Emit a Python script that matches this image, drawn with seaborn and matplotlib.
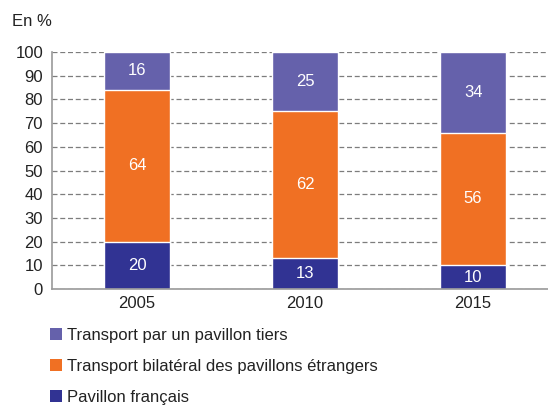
import numpy as np
import pandas as pd
import seaborn as sns
import matplotlib.pyplot as plt
from matplotlib.patches import Patch

years = ["2005", "2010", "2015"]
francais = [20, 13, 10]
bilateral = [64, 62, 56]
tiers = [16, 25, 34]

labels = ["Transport par un pavillon tiers",
          "Transport bilatéral des pavillons étrangers",
          "Pavillon français"]
colors = ["#6561AB", "#F07023", "#313393"]

sns.set_style("white")
plt.rcParams["font.family"] = ["Liberation Sans", "DejaVu Sans"]

df = pd.DataFrame({"year": years, "francais": francais,
                   "bilateral": bilateral, "tiers": tiers})
df["c1"] = df["francais"]
df["c2"] = df["francais"] + df["bilateral"]
df["c3"] = df["c2"] + df["tiers"]

fig = plt.figure(figsize=(5.48, 4.05), dpi=100)
ax = fig.add_axes([0.095, 0.2864, 0.905, 0.5852])

# stacked bars: draw cumulative totals from top layer down
for col, c in zip(["c3", "c2", "c1"], colors):
    sns.barplot(data=df, x="year", y=col, color=c, width=0.39,
                saturation=1, ax=ax, zorder=2)

# value labels centred in segments
for i in range(len(years)):
    parts = [(francais[i], 0), (bilateral[i], francais[i]),
             (tiers[i], francais[i] + bilateral[i])]
    for v, b in parts:
        ax.text(i, b + v / 2, str(v), ha="center", va="center",
                color="white", fontsize=12, zorder=3)

ax.set_xlim(-0.506, 2.446)
ax.set_ylim(0, 100)
ax.set_yticks(range(0, 101, 10))
ax.yaxis.grid(True, linestyle=(0, (4, 2.2)), color="#7d7d7d", linewidth=0.9)
ax.set_axisbelow(True)
ax.set_xlabel("")
ax.set_ylabel("")
ax.tick_params(axis="y", labelsize=12, length=0, pad=6.5, colors="#222222")
ax.tick_params(axis="x", labelsize=12, length=0, pad=5, colors="#222222")
for s in ["top", "right"]:
    ax.spines[s].set_visible(False)
for s in ["left", "bottom"]:
    ax.spines[s].set_color("#9a9a9a")
    ax.spines[s].set_linewidth(1.2)

fig.text(0.022, 0.948, "En %", fontsize=12, color="#222222", va="center")

handles = [Patch(facecolor=c, edgecolor="none") for c in colors]
fig.legend(handles, labels, loc="upper left", bbox_to_anchor=(0.091, 0.19),
           frameon=False, fontsize=12, handlelength=0.7, handleheight=0.7,
           handletextpad=0.3, labelspacing=0.95, borderaxespad=0,
           borderpad=0, labelcolor="#222222")

fig.savefig("out.png", dpi=100)
